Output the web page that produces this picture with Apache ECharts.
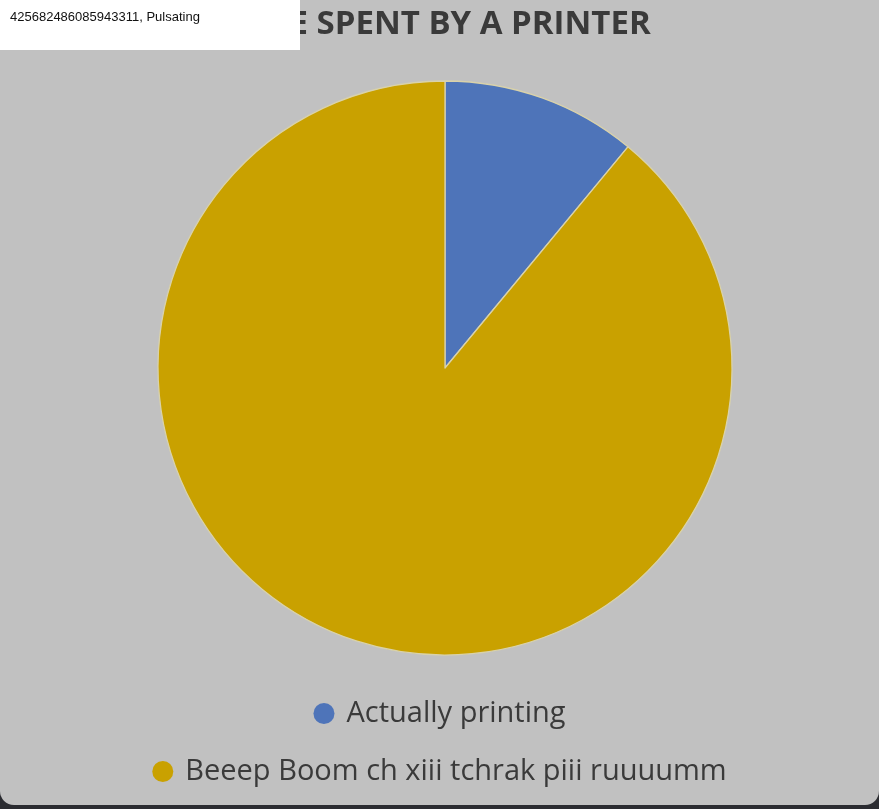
<!DOCTYPE html>
<html>
<head>
<meta charset="utf-8">
<script src="https://cdn.jsdelivr.net/npm/echarts@6/dist/echarts.min.js"></script>
<style>
html,body{margin:0;padding:0;background:#2b2c31;}
#main{width:879px;height:805px;background:#c1c1c1;border-bottom-left-radius:14px;border-bottom-right-radius:14px;overflow:hidden;}
</style>
</head>
<body>
<div id="main"></div>
<script>
var titleText = 'TIME SPENT BY A PRINTER';
var overlayText = '425682486085943311, Pulsating';
var categories = ['Actually printing', 'Beeep Boom ch xiii tchrak piii ruuuumm'];
var values = [11, 89];
var colors = ['#4e74b9', '#c9a100'];

var chart = echarts.init(document.getElementById('main'), null, {renderer: 'canvas'});
var legendText = {fontFamily: 'Open Sans', fontSize: 29, color: '#3a3a3a', padding: [0, 0, 0, 7]};
var option = {
  backgroundColor: 'transparent',
  animation: false,
  title: {
    text: titleText,
    left: 'center',
    top: 3,
    textStyle: {fontFamily: 'Open Sans', fontWeight: 'bold', fontSize: 33, color: '#3a3a3a'}
  },
  legend: [
    {
      data: [categories[0]], left: 'center', top: 694, icon: 'circle',
      itemWidth: 21, itemHeight: 21,
      itemStyle: {borderWidth: 0},
      textStyle: legendText
    },
    {
      data: [categories[1]], left: 'center', top: 752, icon: 'circle',
      itemWidth: 21, itemHeight: 21,
      itemStyle: {borderWidth: 0},
      textStyle: legendText
    }
  ],
  series: [{
    type: 'pie',
    center: [445, 368],
    radius: 287,
    startAngle: 90,
    clockwise: true,
    label: {show: false},
    labelLine: {show: false},
    emphasis: {disabled: true},
    itemStyle: {borderColor: '#d9d2aa', borderWidth: 1.3},
    data: categories.map(function (c, i) {
      return {name: c, value: values[i], itemStyle: {color: colors[i]}};
    })
  }],
  graphic: [
    {type: 'rect', left: 0, top: 0, z: 100, shape: {width: 300, height: 50}, style: {fill: '#ffffff'}},
    {type: 'text', left: 10, top: 11, z: 101, style: {text: overlayText, fill: '#111111', font: '13px "Liberation Sans", Arial, sans-serif'}}
  ]
};
chart.setOption(option);
</script>
</body>
</html>
